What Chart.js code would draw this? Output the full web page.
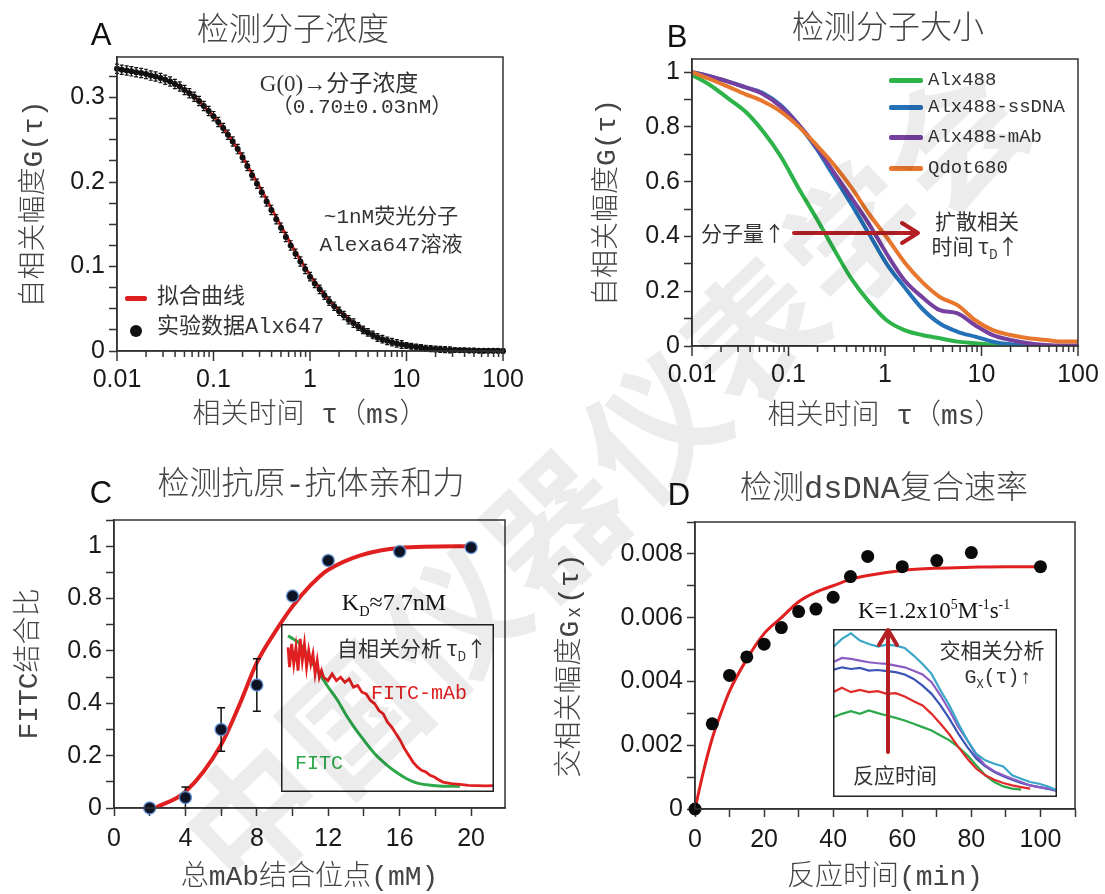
<!DOCTYPE html>
<html>
<head>
<meta charset="utf-8">
<script src="https://cdn.jsdelivr.net/npm/chart.js@4.4.0/dist/chart.umd.min.js"></script>
<style>
body { margin: 0; background: #fff; }
#wrap { position: relative; width: 1105px; height: 894px; overflow: hidden; background: #fff; }
canvas { position: absolute; }
.t { position: absolute; white-space: nowrap; transform: translate(-50%, -50%); line-height: 1;
     font-family: "Noto Sans CJK SC", sans-serif; color: #333; }
.l { position: absolute; white-space: nowrap; transform: translateY(-50%); line-height: 1;
     font-family: "Liberation Mono", "Noto Sans CJK SC", monospace; color: #333; }
.title { font-size: 32px; color: #444; font-weight: 300; }
.mono { font-family: "Liberation Mono", "Noto Sans CJK SC", monospace; }
.serif { font-family: "Liberation Serif", "Noto Sans CJK SC", serif; }
.letter { font-family: "Liberation Sans", Arial, sans-serif; font-size: 31px; color: #111; }
.swatch { position: absolute; height: 5px; border-radius: 2px; }
sub, sup { font-size: 60%; }
#wm { position: absolute; left: 600px; top: 470px; transform: translate(-50%, -50%) rotate(-44deg);
      font-family: "Noto Sans CJK SC", sans-serif; font-weight: 700; font-size: 135px; letter-spacing: 4px;
      color: rgba(0, 0, 0, 0.075); white-space: nowrap; pointer-events: none; z-index: 5; }
</style>
</head>
<body>
<div id="wrap">
  <canvas id="chartA" width="552" height="447" style="left:0;top:0"></canvas>
  <canvas id="chartB" width="553" height="447" style="left:552px;top:0"></canvas>
  <canvas id="chartC" width="552" height="447" style="left:0;top:447px"></canvas>
  <canvas id="chartD" width="553" height="447" style="left:552px;top:447px"></canvas>
  <canvas id="insetC" width="213" height="168" style="left:281px;top:624px"></canvas>
  <canvas id="insetD" width="224" height="168" style="left:833px;top:629px"></canvas>

  <svg width="1105" height="894" style="position:absolute;left:0;top:0;pointer-events:none">
    <g stroke="#b41f24" stroke-width="4" fill="none" stroke-linecap="round" stroke-linejoin="round">
      <line x1="794" y1="233" x2="915" y2="233"/>
      <polyline points="902,223 918,233 902,243"/>
      <line x1="888" y1="752" x2="888" y2="634"/>
      <polyline points="879,645 888,630 897,645"/>
    </g>
  </svg>

  <!-- A -->
  <div class="t letter" style="left:101px;top:34px">A</div>
  <div class="t title" style="left:293px;top:26px">检测分子浓度</div>
  <div class="t serif" style="left:339px;top:83px;font-size:23px">G(0)→分子浓度</div>
  <div class="t mono" style="left:362px;top:107px;font-size:21px">（0.70±0.03nM）</div>
  <div class="t mono" style="left:391px;top:217px;font-size:21px">~1nM荧光分子</div>
  <div class="t mono" style="left:391px;top:245px;font-size:21px">Alexa647溶液</div>
  <div class="swatch" style="left:125px;top:296px;width:22px;background:#e02020"></div>
  <div class="l" style="left:157px;top:298px;font-size:22px">拟合曲线</div>
  <div style="position:absolute;left:130px;top:325px;width:12px;height:12px;border-radius:50%;background:#111"></div>
  <div class="l" style="left:157px;top:328px;font-size:22px">实验数据Alx647</div>

  <!-- B -->
  <div class="t letter" style="left:677px;top:36px">B</div>
  <div class="t title" style="left:888px;top:24px">检测分子大小</div>
  <div class="swatch" style="left:889px;top:78px;width:34px;background:#2db34a"></div>
  <div class="l" style="left:928px;top:80px;font-size:19px">Alx488</div>
  <div class="swatch" style="left:889px;top:105px;width:34px;background:#2471b8"></div>
  <div class="l" style="left:928px;top:107px;font-size:19px">Alx488-ssDNA</div>
  <div class="swatch" style="left:889px;top:135px;width:34px;background:#7540a0"></div>
  <div class="l" style="left:928px;top:137px;font-size:19px">Alx488-mAb</div>
  <div class="swatch" style="left:889px;top:166px;width:34px;background:#e8772e"></div>
  <div class="l" style="left:928px;top:168px;font-size:19px">Qdot680</div>
  <div class="t" style="left:743px;top:232px;font-size:21px">分子量↑</div>
  <div class="t" style="left:977px;top:220px;font-size:21px">扩散相关</div>
  <div class="t" style="left:975px;top:248px;font-size:21px">时间 τ<sub>D</sub>↑</div>

  <!-- C -->
  <div class="t letter" style="left:101px;top:492px">C</div>
  <div class="t title mono" style="left:311px;top:486px">检测抗原-抗体亲和力</div>
  <div class="t serif" style="left:394px;top:604px;font-size:24px;color:#111">K<sub>D</sub>≈7.7nM</div>
  <div class="t" style="left:412px;top:650px;font-size:21px">自相关分析 τ<sub>D</sub>↑</div>
  <div class="t mono" style="left:419px;top:694px;font-size:20px;color:#e02020">FITC-mAb</div>
  <div class="t mono" style="left:319px;top:764px;font-size:20px;color:#2ca84a">FITC</div>

  <!-- D -->
  <div class="t letter" style="left:679px;top:494px">D</div>
  <div class="t title mono" style="left:884px;top:490px">检测dsDNA复合速率</div>
  <div class="t serif" style="left:934px;top:610px;font-size:23px;color:#111">K=1.2x10<sup>5</sup>M<sup>-1</sup>s<sup>-1</sup></div>
  <div class="t" style="left:992px;top:649px;font-size:21px">交相关分析</div>
  <div class="t mono" style="left:998px;top:679px;font-size:20px">G<sub>X</sub>(τ)↑</div>
  <div class="t" style="left:895px;top:774px;font-size:21px">反应时间</div>

  <div id="wm">中国仪器仪表学会</div>
</div>

<script>
// ---------- A: 检测分子浓度 ----------
const tauA = [
  0.01, 0.0112, 0.0126, 0.0141, 0.0158, 0.0178, 0.02, 0.0224, 0.0251, 0.0282,
  0.0316, 0.0355, 0.0398, 0.0447, 0.0501, 0.0562, 0.0631, 0.0708, 0.0794, 0.0891,
  0.1, 0.112, 0.126, 0.141, 0.158, 0.178, 0.2, 0.224, 0.251, 0.282,
  0.316, 0.355, 0.398, 0.447, 0.501, 0.562, 0.631, 0.708, 0.794, 0.891,
  1, 1.12, 1.26, 1.41, 1.58, 1.78, 2, 2.24, 2.51, 2.82,
  3.16, 3.55, 3.98, 4.47, 5.01, 5.62, 6.31, 7.08, 7.94, 8.91,
  10, 11.2, 12.6, 14.1, 15.8, 17.8, 20, 22.4, 25.1, 28.2,
  31.6, 35.5, 39.8, 44.7, 50.1, 56.2, 63.1, 70.8, 79.4, 89.1, 100
];
const gA = [
  0.334, 0.333, 0.332, 0.331, 0.330, 0.329, 0.328, 0.326, 0.325, 0.323,
  0.321, 0.319, 0.316, 0.313, 0.309, 0.305, 0.301, 0.296, 0.290, 0.284,
  0.278, 0.271, 0.264, 0.256, 0.248, 0.239, 0.229, 0.219, 0.208, 0.198,
  0.188, 0.177, 0.167, 0.156, 0.146, 0.135, 0.125, 0.115, 0.106, 0.097,
  0.088, 0.080, 0.073, 0.066, 0.059, 0.053, 0.047, 0.042, 0.037, 0.033,
  0.029, 0.025, 0.022, 0.019, 0.016, 0.014, 0.012, 0.0105, 0.009, 0.0077,
  0.0065, 0.0056, 0.0047, 0.004, 0.0033, 0.0028, 0.0023, 0.0019, 0.0016, 0.0013,
  0.0011, 0.0009, 0.0008, 0.0006, 0.0005, 0.0004, 0.0003, 0.0003, 0.0002, 0.0002, 0.0001
];
const errA = [
  0.0055, 0.0055, 0.0055, 0.0055, 0.0055, 0.0055, 0.0055, 0.0055, 0.0055, 0.0055,
  0.0055, 0.0055, 0.0055, 0.0055, 0.0055, 0.0055, 0.0055, 0.0055, 0.0055, 0.0055,
  0.0055, 0.0055, 0.0055, 0.0055, 0.0055, 0.0055, 0.0055, 0.0055, 0.0055, 0.0055,
  0.0055, 0.0055, 0.0055, 0.0055, 0.0055, 0.0055, 0.0055, 0.0055, 0.0055, 0.0055,
  0.005, 0.005, 0.005, 0.005, 0.005, 0.005, 0.005, 0.005, 0.005, 0.005,
  0.0045, 0.0045, 0.0045, 0.0045, 0.0045, 0.0045, 0.0045, 0.0045, 0.0045, 0.0045,
  0.0035, 0.0035, 0.0035, 0.0035, 0.0035, 0.0035, 0.0035, 0.0035, 0.0035, 0.0035,
  0.0025, 0.0025, 0.0025, 0.0025, 0.0025, 0.0025, 0.0025, 0.0025, 0.0025, 0.0025, 0.0025
];
const tauFitA = [
  0.01, 0.0126, 0.0158, 0.02, 0.0251, 0.0316, 0.0398, 0.0501, 0.0631, 0.0794,
  0.1, 0.126, 0.158, 0.2, 0.251, 0.316, 0.398, 0.501, 0.631, 0.794,
  1, 1.26, 1.58, 2, 2.51, 3.16, 3.98, 5.01, 6.31, 7.94,
  10, 12.6, 15.8, 20, 25.1, 31.6, 39.8, 50.1, 63.1, 79.4, 100
];
const gFitA = [
  0.334, 0.332, 0.330, 0.328, 0.325, 0.321, 0.316, 0.309, 0.301, 0.290,
  0.278, 0.264, 0.248, 0.230, 0.210, 0.190, 0.169, 0.148, 0.127, 0.108,
  0.090, 0.074, 0.060, 0.048, 0.038, 0.029, 0.022, 0.016, 0.012, 0.009,
  0.0065, 0.0047, 0.0033, 0.0023, 0.0016, 0.0011, 0.0008, 0.0005, 0.0003, 0.0002, 0.0001
];

// ---------- B: 检测分子大小 ----------
const tauB = [0.01, 0.0152, 0.0233, 0.0355, 0.0541, 0.0826, 0.126, 0.192, 0.294, 0.448, 0.684,
  1.04, 1.59, 2.42, 3.70, 5.64, 8.61, 13.1, 20.0, 30.6, 46.6, 71.1, 100];
const gAlx488 = [0.99, 0.954, 0.906, 0.857, 0.785, 0.694, 0.579, 0.470, 0.355, 0.246, 0.161,
  0.094, 0.058, 0.040, 0.028, 0.016, 0.010, 0.004, 0.001, 0, 0, 0, 0];
const gSsDNA = [1.0, 0.985, 0.966, 0.945, 0.924, 0.88, 0.81, 0.724, 0.621, 0.518, 0.409,
  0.30, 0.215, 0.137, 0.082, 0.052, 0.034, 0.016, 0.006, 0.001, 0, 0, 0];
const gMAb = [1.0, 0.985, 0.966, 0.945, 0.92, 0.875, 0.81, 0.73, 0.635, 0.542, 0.445,
  0.337, 0.24, 0.179, 0.131, 0.119, 0.076, 0.04, 0.022, 0.01, 0.004, 0.002, 0.002];
const gQdot = [1.0, 0.975, 0.948, 0.92, 0.894, 0.857, 0.803, 0.736, 0.663, 0.579, 0.482,
  0.397, 0.306, 0.234, 0.179, 0.149, 0.094, 0.058, 0.040, 0.028, 0.022, 0.016, 0.016];

// ---------- C: 检测抗原-抗体亲和力 ----------
const mAbSites = [2, 4, 6, 8, 10, 12, 16, 20];
const boundRatio = [0, 0.04, 0.30, 0.47, 0.81, 0.945, 0.98, 0.995];
const boundErr = [0, 0.04, 0.083, 0.10, 0, 0, 0, 0];
const fitSites = [2.3, 4, 6, 7, 8, 9, 10, 11, 12, 16, 20];
const fitRatio = [0, 0.062, 0.242, 0.39, 0.555, 0.67, 0.77, 0.85, 0.91, 0.993, 1.0];
// inset: 自相关曲线 (arbitrary lag units)
const lagFitcMab = [3.3, 4, 5, 6, 7, 8, 9, 10, 11, 12, 13, 14, 15, 16, 17, 18, 19, 20, 22, 24, 26, 28, 30,
  32, 34, 36, 38, 40, 42, 44, 46, 48, 50, 52, 54, 56, 58, 60, 62, 64, 66, 68, 70, 72, 74, 76, 80, 84, 88, 92, 96, 100];
const gFitcMab = [0.861, 0.743, 0.881, 0.762, 0.861, 0.723, 0.911, 0.782, 0.881, 0.743, 0.842, 0.762, 0.822, 0.703,
  0.782, 0.683, 0.723, 0.683, 0.663, 0.703, 0.663, 0.683, 0.653, 0.673, 0.624, 0.634, 0.594, 0.584, 0.545, 0.525,
  0.485, 0.465, 0.416, 0.386, 0.347, 0.307, 0.257, 0.218, 0.178, 0.149, 0.129, 0.119, 0.099, 0.089, 0.073, 0.059,
  0.050, 0.046, 0.040, 0.038, 0.036, 0.038];
const lagFitc = [3.3, 5.8, 9.1, 14, 18.3, 22.4, 26.6, 30.7, 34.9, 39, 44, 49, 54, 59, 64, 70.6, 77, 84];
const gFitc = [0.93, 0.91, 0.88, 0.78, 0.70, 0.62, 0.545, 0.455, 0.376, 0.307, 0.228, 0.168, 0.119, 0.079,
  0.053, 0.04, 0.034, 0.034];

// ---------- D: 检测dsDNA复合速率 ----------
const reactMin = [0, 5, 10, 15, 20, 25, 30, 35, 40, 45, 50, 60, 70, 80, 100];
const gxAmp = [0, 0.00267, 0.00419, 0.00477, 0.00517, 0.00569, 0.00619, 0.00627, 0.00664, 0.00729,
  0.00792, 0.0076, 0.00779, 0.00804, 0.0076];
const fitMin = [0, 2.5, 5, 7.5, 10, 15, 20, 25, 30, 35, 40, 45, 50, 60, 70, 80, 90, 100];
const fitGx = [0, 0.0012, 0.00222, 0.003, 0.0037, 0.0047, 0.0055, 0.006, 0.0065, 0.0068, 0.007, 0.0072,
  0.00732, 0.00748, 0.00755, 0.00758, 0.0076, 0.0076];
// inset: 交相关曲线, 随反应时间增大
const lagD = [0, 4, 8, 12, 16, 20, 24, 28, 32, 36, 40, 44, 48, 52, 56, 60, 64, 68, 72, 76, 80, 84, 88, 92, 96, 100];
const gxT5 = [0.891, 0.941, 0.974, 0.931, 0.911, 0.895, 0.907, 0.901, 0.887, 0.842, 0.792, 0.733, 0.634,
  0.545, 0.436, 0.337, 0.257, 0.218, 0.198, 0.182, 0.129, 0.109, 0.089, 0.079, 0.063, 0.040];
const gxT4 = [0.802, 0.828, 0.822, 0.812, 0.802, 0.796, 0.792, 0.782, 0.772, 0.752, 0.729, 0.683, 0.604,
  0.515, 0.416, 0.337, 0.248, 0.188, 0.154, 0.129, 0.109, 0.089, 0.069, 0.059, 0.050, 0.040];
const gxT3 = [0.756, 0.772, 0.762, 0.768, 0.752, 0.756, 0.749, 0.743, 0.729, 0.703, 0.663, 0.614, 0.545,
  0.465, 0.376, 0.297, 0.228, 0.182, 0.149, 0.123, 0.103, 0.083, 0.069, 0.059, 0.048, 0.036];
const gxT2 = [0.624, 0.650, 0.624, 0.638, 0.624, 0.630, 0.614, 0.618, 0.598, 0.570, 0.545, 0.495, 0.436,
  0.372, 0.297, 0.228, 0.168, 0.129, 0.103, 0.083, 0.069, 0.059, 0.050];
const gxT1 = [0.475, 0.495, 0.511, 0.495, 0.515, 0.499, 0.485, 0.471, 0.455, 0.436, 0.416, 0.396, 0.366,
  0.337, 0.297, 0.248, 0.188, 0.129, 0.089, 0.063, 0.050, 0.044];

const decades = [0.01, 0.1, 1, 10, 100];

// ---------- helpers ----------
const TICK_FONT = { family: '"Liberation Sans", Arial, sans-serif', size: 25 };
const AXIS_FONT = { family: '"Liberation Mono", "Noto Sans CJK SC", sans-serif', size: 28, weight: 300 };
const INK = '#1a1a1a';

const pts = (xs, ys) => xs.map((x, i) => ({ x: x, y: ys[i] }));

const frame = {
  id: 'frame',
  afterDraw(chart, args, opts) {
    const { ctx, chartArea: a } = chart;
    const d = opts.inset || 0;
    ctx.save();
    ctx.strokeStyle = opts.color || '#333';
    ctx.lineWidth = 1.5;
    ctx.strokeRect(a.left + d, a.top + d, a.right - a.left - 2 * d, a.bottom - a.top - 2 * d);
    ctx.restore();
  }
};

// log axis: long ticks at decades, short ticks in between
const logTicks = {
  id: 'logTicks',
  afterDraw(chart, args, opts) {
    if (!opts.on) return;
    const { ctx } = chart;
    const s = chart.scales.x;
    ctx.save();
    ctx.strokeStyle = '#333';
    ctx.lineWidth = 1.5;
    s.ticks.forEach((t) => {
      const px = s.getPixelForValue(t.value);
      const len = decades.includes(t.value) ? 10 : 6;
      ctx.beginPath();
      ctx.moveTo(px, s.top);
      ctx.lineTo(px, s.top + len);
      ctx.stroke();
    });
    ctx.restore();
  }
};

const whiteBg = {
  id: 'whiteBg',
  beforeDraw(chart, args, opts) {
    if (!opts.on) return;
    const { ctx, width, height } = chart;
    ctx.save();
    ctx.fillStyle = '#fff';
    ctx.fillRect(0, 0, width, height);
    ctx.restore();
  }
};

const errorBars = {
  id: 'errorBars',
  beforeDatasetDraw(chart, args) {
    const ds = chart.data.datasets[args.index];
    if (!ds.errors) return;
    const { ctx, scales: { x, y } } = chart;
    ctx.save();
    ctx.strokeStyle = ds.errorColor || '#000';
    ctx.lineWidth = ds.errorWidth || 1;
    ds.data.forEach((p, i) => {
      const e = ds.errors[i];
      if (!e) return;
      const px = x.getPixelForValue(p.x);
      const y1 = y.getPixelForValue(p.y - e);
      const y2 = y.getPixelForValue(p.y + e);
      const c = ds.capWidth || 0;
      ctx.beginPath();
      ctx.moveTo(px, y1); ctx.lineTo(px, y2);
      if (c) {
        ctx.moveTo(px - c, y1); ctx.lineTo(px + c, y1);
        ctx.moveTo(px - c, y2); ctx.lineTo(px + c, y2);
      }
      ctx.stroke();
    });
    ctx.restore();
  }
};

function linTicks(every, digits) {
  return (v) => {
    const r = v / every;
    if (Math.abs(r - Math.round(r)) > 1e-6) return '';
    return v === 0 ? '0' : String(+v.toFixed(digits));
  };
}

function axis(o) {
  const ax = {
    type: o.type || 'linear',
    position: o.pos,
    min: o.min,
    max: o.max,
    border: { color: '#333', width: 1.5 },
    grid: { drawOnChartArea: false, drawTicks: true, tickLength: 8, tickColor: '#333', tickWidth: 1.5 },
    ticks: {
      font: TICK_FONT, color: INK, padding: o.lpad || 4, maxRotation: 0, autoSkip: false,
      includeBounds: false, callback: o.label
    },
    title: {
      display: true, text: o.title, font: AXIS_FONT, color: '#444',
      padding: { top: o.tpad, bottom: o.tpad }
    }
  };
  if (o.step) ax.ticks.stepSize = o.step;
  if (o.values) {
    // tick marks drawn by the logTicks plugin
    ax.afterBuildTicks = (s) => { s.ticks = o.values.map(v => ({ value: v })); };
    ax.grid.drawTicks = false;
    ax.ticks.padding = 8 + (o.lpad || 4);
  }
  if (o.pos === 'left') {
    ax.afterFit = (s) => { s.width = o.size; };
  } else {
    ax.afterFit = (s) => { s.height = o.size; s.paddingLeft = 0; s.paddingRight = 0; };
  }
  return ax;
}

function logValues() {
  const v = [];
  for (let d = 0; d < 4; d++) for (let m = 1; m < 10; m++) v.push(m * decades[d]);
  v.push(decades[4]);
  return v;
}
const decadeLabel = (v) => (decades.includes(v) ? String(v) : '');

function mainChart(id, datasets, scales, pad, isLog) {
  return new Chart(document.getElementById(id), {
    type: 'scatter',
    data: { datasets: datasets },
    options: {
      responsive: false, animation: false, events: [],
      layout: { padding: pad },
      plugins: { legend: { display: false }, tooltip: { enabled: false }, frame: {},
        whiteBg: { on: false }, logTicks: { on: !!isLog } },
      scales: scales
    },
    plugins: [frame, errorBars, whiteBg, logTicks]
  });
}

function lineSet(xs, ys, color, width, smooth) {
  return {
    data: pts(xs, ys), showLine: true, borderColor: color, borderWidth: width,
    pointRadius: 0, cubicInterpolationMode: smooth ? 'monotone' : 'default', tension: 0
  };
}

// ---------- A ----------
mainChart('chartA', [
  {
    data: pts(tauA, gA), pointRadius: 3, backgroundColor: '#111', borderWidth: 0, clip: false,
    errors: errA, errorColor: '#111', errorWidth: 1.2, capWidth: 2
  },
  lineSet(tauFitA, gFitA, '#e02020', 3, true)
], {
  x: axis({ type: 'logarithmic', pos: 'bottom', min: 0.01, max: 100, values: logValues(), label: decadeLabel,
    title: '相关时间 τ（ms）', tpad: 15, lpad: 6, size: 96 }),
  y: axis({ pos: 'left', min: 0, max: 0.348, step: 0.025, label: linTicks(0.1, 1),
    title: '自相关幅度G(τ)', tpad: 18, size: 117 })
}, { top: 57, right: 49, left: 0, bottom: 0 }, true);

// ---------- B ----------
mainChart('chartB', [
  lineSet(tauB, gQdot, '#e8772e', 4, true),
  lineSet(tauB, gMAb, '#7540a0', 4, true),
  lineSet(tauB, gSsDNA, '#2471b8', 4, true),
  lineSet(tauB, gAlx488, '#2db34a', 4, true)
], {
  x: axis({ type: 'logarithmic', pos: 'bottom', min: 0.01, max: 100, values: logValues(), label: decadeLabel,
    title: '相关时间 τ（ms）', tpad: 14, lpad: 6, size: 101 }),
  y: axis({ pos: 'left', min: 0, max: 1.048, step: 0.1, label: linTicks(0.2, 1),
    title: '自相关幅度G(τ)', tpad: 39, size: 140 })
}, { top: 59, right: 27, left: 0, bottom: 0 }, true);

// ---------- C ----------
mainChart('chartC', [
  {
    data: pts(mAbSites, boundRatio), pointRadius: 6, backgroundColor: '#0d1322',
    borderColor: 'rgba(95,145,215,0.85)', borderWidth: 1.5, clip: false,
    errors: boundErr, errorColor: '#111', errorWidth: 1.5, capWidth: 4
  },
  lineSet(fitSites, fitRatio, '#e02020', 4, true)
], {
  x: axis({ pos: 'bottom', min: 0, max: 21.9, step: 2, label: linTicks(4, 0),
    title: '总mAb结合位点(mM)', tpad: 0, lpad: 8, size: 86 }),
  y: axis({ pos: 'left', min: 0, max: 1.1, step: 0.1, label: linTicks(0.2, 1),
    title: 'FITC结合比', tpad: 13, size: 114 })
}, { top: 73, right: 47, left: 0, bottom: 0 }, false);

// ---------- D ----------
mainChart('chartD', [
  { data: pts(reactMin, gxAmp), pointRadius: 6.5, backgroundColor: '#0a0a0a', borderWidth: 0, clip: false },
  lineSet(fitMin, fitGx, '#e02020', 3, true)
], {
  x: axis({ pos: 'bottom', min: 0, max: 110, step: 10, label: linTicks(20, 0),
    title: '反应时间(min)', tpad: 0, lpad: 8, size: 85 }),
  y: axis({ pos: 'left', min: 0, max: 0.009, step: 0.001, label: linTicks(0.002, 3),
    title: '交相关幅度Gₓ(τ)', tpad: 2, size: 143 })
}, { top: 75, right: 30, left: 0, bottom: 0 }, false);

// ---------- insets ----------
function insetChart(id, datasets) {
  return new Chart(document.getElementById(id), {
    type: 'scatter',
    data: { datasets: datasets },
    options: {
      responsive: false, animation: false, events: [],
      layout: { padding: 0 },
      plugins: { legend: { display: false }, tooltip: { enabled: false },
        frame: { inset: 0.75, color: '#222' }, whiteBg: { on: true } },
      scales: {
        x: { type: 'linear', min: 0, max: 100, display: false },
        y: { type: 'linear', min: 0, max: 1, display: false }
      }
    },
    plugins: [frame, whiteBg]
  });
}

insetChart('insetC', [
  lineSet(lagFitcMab, gFitcMab, '#e02020', 2.8, false),
  lineSet(lagFitc, gFitc, '#2ca84a', 3, true)
]);

insetChart('insetD', [
  lineSet(lagD, gxT5, '#3aa6c8', 2.2, false),
  lineSet(lagD, gxT4, '#8a5cc4', 2.2, false),
  lineSet(lagD, gxT3, '#3a55b4', 2.2, false),
  lineSet(lagD.slice(0, gxT2.length), gxT2, '#e02b2b', 2.2, false),
  lineSet(lagD.slice(0, gxT1.length), gxT1, '#2ca84a', 2.2, false)
]);
</script>
</body>
</html>
